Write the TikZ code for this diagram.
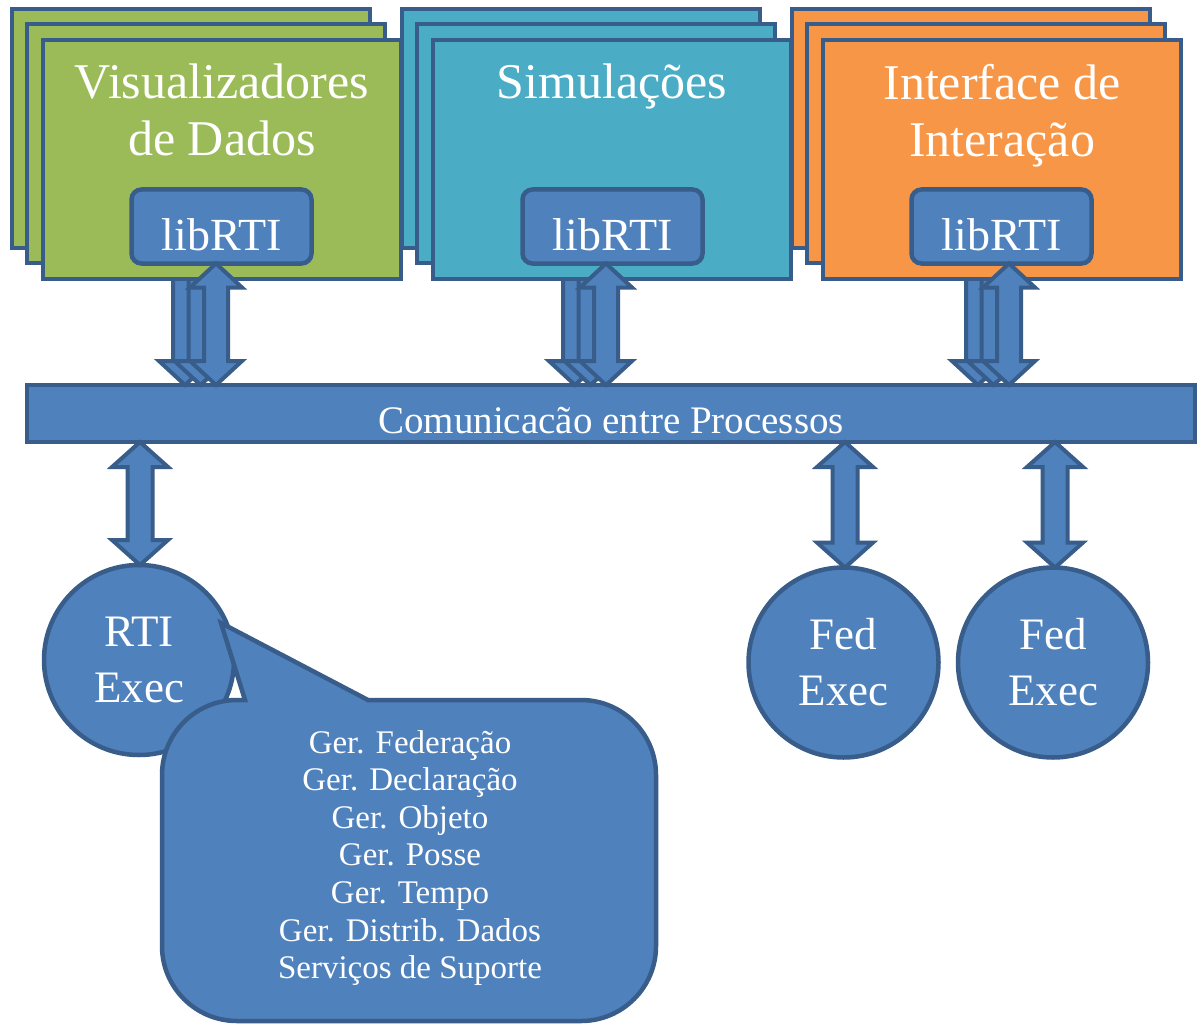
\documentclass[tikz,border=0pt]{standalone}
\usepackage{fontspec}
\setmainfont{Liberation Serif}
\usetikzlibrary{calc}

\definecolor{fedgreen}{HTML}{9BBB59}
\definecolor{fedcyan}{HTML}{4BACC6}
\definecolor{fedorange}{HTML}{F79646}
\definecolor{rtiblue}{HTML}{4F81BD}
\definecolor{rtiedge}{HTML}{385D8A}

\tikzset{
  every node/.style={outer sep=0pt},
  panel/.style={draw=rtiedge, fill=#1, line width=4.5pt, minimum width=358pt,
    minimum height=239pt, anchor=north west, inner sep=0pt},
  libbox/.style={draw=rtiedge, fill=rtiblue, line width=4.5pt, rounded corners=10pt,
    minimum width=180pt, minimum height=74pt, inner sep=0pt, text=white,
    font=\fontsize{46}{50}\selectfont, text height=47pt, text depth=0pt},
  paneltitle/.style={text=white, font=\fontsize{50}{57}\selectfont, align=center,
    anchor=north, inner sep=0pt},
  busbar/.style={draw=rtiedge, fill=rtiblue, line width=4pt, minimum width=1168pt,
    minimum height=57pt, inner sep=0pt, text=white,
    font=\fontsize{39}{44}\selectfont, text height=39pt, text depth=0pt},
  execnode/.style={circle, draw=rtiedge, fill=rtiblue, line width=4.5pt,
    minimum size=190pt, inner sep=0pt, text=white, align=center,
    font=\fontsize{45}{56}\selectfont},
  calloutshape/.style={draw=rtiedge, fill=rtiblue, line width=4.5pt, line join=miter},
  servicelist/.style={text=white, align=center, inner sep=0pt,
    font=\fontsize{33}{37.6}\selectfont},
  arrowshape/.style={draw=rtiedge, fill=rtiblue, line width=4pt, line join=miter},
}

% block up/down arrow: #1 upper tip, #2 lower tip, #3 shaft half-width,
% #4 head half-width, #5 head length (all in pt)
\newcommand\updown[5]{%
  \path[arrowshape] let \p1=(#1), \p2=(#2) in
    (\x1,\y1) -- (\x1+#4pt,\y1-#5pt) -- (\x1+#3pt,\y1-#5pt)
    -- (\x1+#3pt,\y2+#5pt) -- (\x1+#4pt,\y2+#5pt) -- (\x1,\y2)
    -- (\x1-#4pt,\y2+#5pt) -- (\x1-#3pt,\y2+#5pt)
    -- (\x1-#3pt,\y1-#5pt) -- (\x1-#4pt,\y1-#5pt) -- cycle;}

\begin{document}
\begin{tikzpicture}[x=1pt,y=-1pt]
\useasboundingbox (0,0) rectangle (1201,1027);
\fill[white] (0,0) rectangle (1201,1027);

% inter-process communication bus
\node[busbar] (bus) at (611,413.5) {Comunicacão entre Processos};

% ---- federate stack: data viewers
\node[panel=fedgreen] (vback) at (12,9) {};
\node[panel=fedgreen] (vmid) at (27,24) {};
\coordinate (va) at (216,0);
\coordinate (vb) at (200.5,0);
\coordinate (vc) at (185,0);
\updown{vc |- vmid.center}{vc |- bus.north}{12}{26}{24}
\updown{vb |- vmid.center}{vb |- bus.north}{12}{26}{24}
\node[panel=fedgreen] (vfront) at (43,40) {};
\node[paneltitle] (vtitle) at (222,64) {Visualizadores\\de Dados};
\node[libbox] (vlib) at (221.5,226.5) {libRTI};
\updown{va |- vlib.south}{va |- bus.north}{12}{26}{24}

% ---- federate stack: simulations
\node[panel=fedcyan] (sback) at (402,9) {};
\node[panel=fedcyan] (smid) at (417,24) {};
\coordinate (sa) at (606,0);
\coordinate (sb) at (590.5,0);
\coordinate (sc) at (575,0);
\updown{sc |- smid.center}{sc |- bus.north}{12}{26}{24}
\updown{sb |- smid.center}{sb |- bus.north}{12}{26}{24}
\node[panel=fedcyan] (sfront) at (433,40) {};
\node[paneltitle] (stitle) at (612,64) {Simulações};
\node[libbox] (slib) at (612.5,226.5) {libRTI};
\updown{sa |- slib.south}{sa |- bus.north}{12}{26}{24}

% ---- federate stack: interaction interface
\node[panel=fedorange] (iback) at (792,9) {};
\node[panel=fedorange] (imid) at (807,24) {};
\coordinate (ia) at (1009,0);
\coordinate (ib) at (993.5,0);
\coordinate (ic) at (978,0);
\updown{ic |- imid.center}{ic |- bus.north}{12}{26}{24}
\updown{ib |- imid.center}{ib |- bus.north}{12}{26}{24}
\node[panel=fedorange] (ifront) at (823,40) {};
\node[paneltitle] (ititle) at (1002,64) {Interface de\\Interação};
\node[libbox] (ilib) at (1001.5,226.5) {libRTI};
\updown{ia |- ilib.south}{ia |- bus.north}{12}{26}{24}

% ---- executives
\node[execnode] (rti) at (139,660) {RTI\\Exec};
\node[execnode] (fed1) at (843.5,662.5) {Fed\\Exec};
\node[execnode] (fed2) at (1053,662.5) {Fed\\Exec};

\coordinate (ra) at (140,0);
\coordinate (fa) at (845,0);
\coordinate (fb) at (1055,0);
\updown{ra |- bus.south}{ra |- rti.north}{12.5}{28}{25}
\updown{fa |- bus.south}{fa |- fed1.north}{12.5}{28}{25}
\updown{fb |- bus.south}{fb |- fed2.north}{12.5}{28}{25}

% ---- callout listing the RTI executive services
\path[calloutshape]
  (221,623) -- (368,700) -- (581,700) arc[start angle=90, end angle=0, radius=75pt]
  -- (656,946) arc[start angle=0, end angle=-90, radius=75pt]
  -- (237,1021) arc[start angle=-90, end angle=-180, radius=75pt]
  -- (162,775) arc[start angle=180, end angle=90, radius=75pt]
  -- (245,700) -- cycle;
\node[servicelist] (svc) at (410,858) {Ger. Federação\\Ger. Declaração\\Ger. Objeto\\Ger. Posse\\Ger. Tempo\\Ger. Distrib. Dados\\Serviços de Suporte};
\end{tikzpicture}
\end{document}
